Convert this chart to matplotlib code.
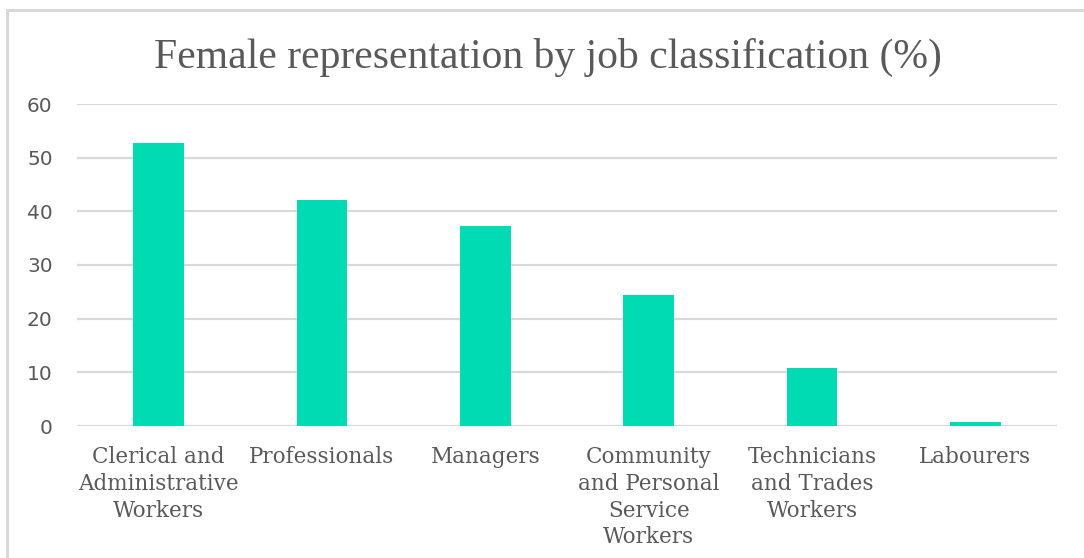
import matplotlib
matplotlib.use('Agg')
from matplotlib import pyplot as plt
from matplotlib.lines import Line2D

categories = ['Clerical and\nAdministrative\nWorkers', 'Professionals', 'Managers',
              'Community\nand Personal\nService\nWorkers', 'Technicians\nand Trades\nWorkers',
              'Labourers']
female_pct = [52.7, 42.1, 37.3, 24.5, 10.9, 0.8]
yticks = [0, 10, 20, 30, 40, 50, 60]

bar_color = '#00DBB4'
text_color = '#595959'
grid_color = '#D9D9D9'

fig = plt.figure(figsize=(10.84, 5.58), dpi=100)
ax = fig.add_axes([77 / 1084, 1 - 426 / 558, 980 / 1084, 322 / 558])

x = range(len(categories))
ax.bar(x, female_pct, width=0.31, color=bar_color, zorder=3)

ax.set_xlim(-0.5, len(categories) - 0.5)
ax.set_ylim(0, 60)
ax.set_yticks(yticks)
ax.set_xticks(list(x))
ax.set_xticklabels(categories, fontfamily='DejaVu Serif', fontsize=15.5,
                   color=text_color, linespacing=1.28, va='top')
for lbl in ax.get_yticklabels():
    lbl.set_fontfamily('DejaVu Sans')
    lbl.set_fontsize(14.5)
    lbl.set_color(text_color)
ax.tick_params(axis='both', length=0)
ax.tick_params(axis='y', pad=17.5)
ax.tick_params(axis='x', pad=14.5)

ax.grid(axis='y', color=grid_color, linewidth=1.6, zorder=0)
for side in ['top', 'right', 'left', 'bottom']:
    ax.spines[side].set_visible(False)

fig.text(548 / 1084, 1 - 68 / 558, 'Female representation by job classification (%)',
         ha='center', va='baseline', fontsize=30, color=text_color,
         fontfamily='Liberation Serif')

# light frame along the top and left edges
fig.add_artist(Line2D([7 / 1084, 1.0], [1 - 10 / 558, 1 - 10 / 558],
                      transform=fig.transFigure, color='#D9D9D9', linewidth=2.2))
fig.add_artist(Line2D([7 / 1084, 7 / 1084], [0, 1 - 10 / 558],
                      transform=fig.transFigure, color='#D9D9D9', linewidth=2.2))

fig.savefig('out.png', dpi=100)
